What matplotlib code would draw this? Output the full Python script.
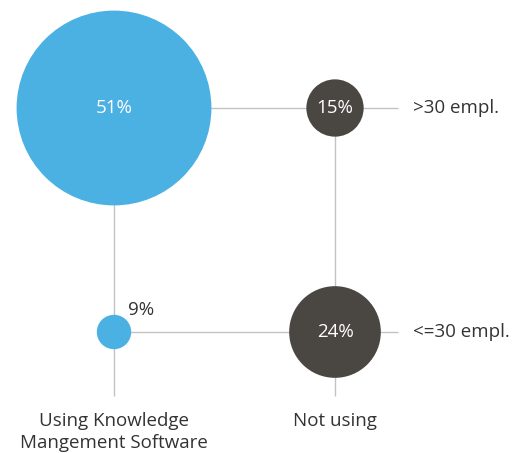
import matplotlib
matplotlib.use("Agg")
import matplotlib.pyplot as plt
from matplotlib.patches import Circle

# ── data ─────────────────────────────────────
columns = ["Using Knowledge\nMangement Software", "Not using"]
rows = [">30 empl.", "<=30 empl."]
values = [[51, 15],   # >30 empl.
          [9, 24]]    # <=30 empl.
col_colors = ["#4bb1e3", "#4a4743"]

# ── layout (pixels) ──────────────────────────
W, H = 528, 453
col_x = [114, 335]
row_y = [108, 332]
px_per_pct = 1.91      # radius grows linearly with value
line_end_y = 396
line_end_x = 398

plt.rcParams['font.family'] = ['Open Sans', 'DejaVu Sans']
TXT = "#333333"
GRID = "#c2c2c2"
FS = 13.5

fig = plt.figure(figsize=(W / 100, H / 100), dpi=100)
ax = fig.add_axes([0, 0, 1, 1])
ax.set_xlim(0, W)
ax.set_ylim(H, 0)
ax.axis('off')

# connecting lines
for x in col_x:
    ax.plot([x, x], [row_y[0], line_end_y], color=GRID, lw=1.0, zorder=1,
            solid_capstyle='butt')
for y in row_y:
    ax.plot([col_x[0], line_end_x], [y, y], color=GRID, lw=1.0, zorder=1,
            solid_capstyle='butt')

# bubbles
for i, y in enumerate(row_y):
    for j, x in enumerate(col_x):
        v = values[i][j]
        r = v * px_per_pct
        ax.add_patch(Circle((x, y), r, color=col_colors[j], zorder=2, lw=0))
        if r > 22:
            ax.text(x, y, f"{v}%", ha='center', va='center', color='white',
                    fontsize=FS, zorder=3)
        else:
            ax.text(x + r - 3, y - r + 4, f"{v}%", ha='left', va='bottom',
                    color=TXT, fontsize=FS, zorder=3)

# row labels
for y, lab in zip(row_y, rows):
    ax.text(413, y, lab, ha='left', va='center', color=TXT, fontsize=FS)

# column labels
for x, lab in zip(col_x, columns):
    ax.text(x, 412, lab, ha='center', va='top', color=TXT, fontsize=FS,
            linespacing=1.25)

fig.savefig("out.png", dpi=100, facecolor='white')
